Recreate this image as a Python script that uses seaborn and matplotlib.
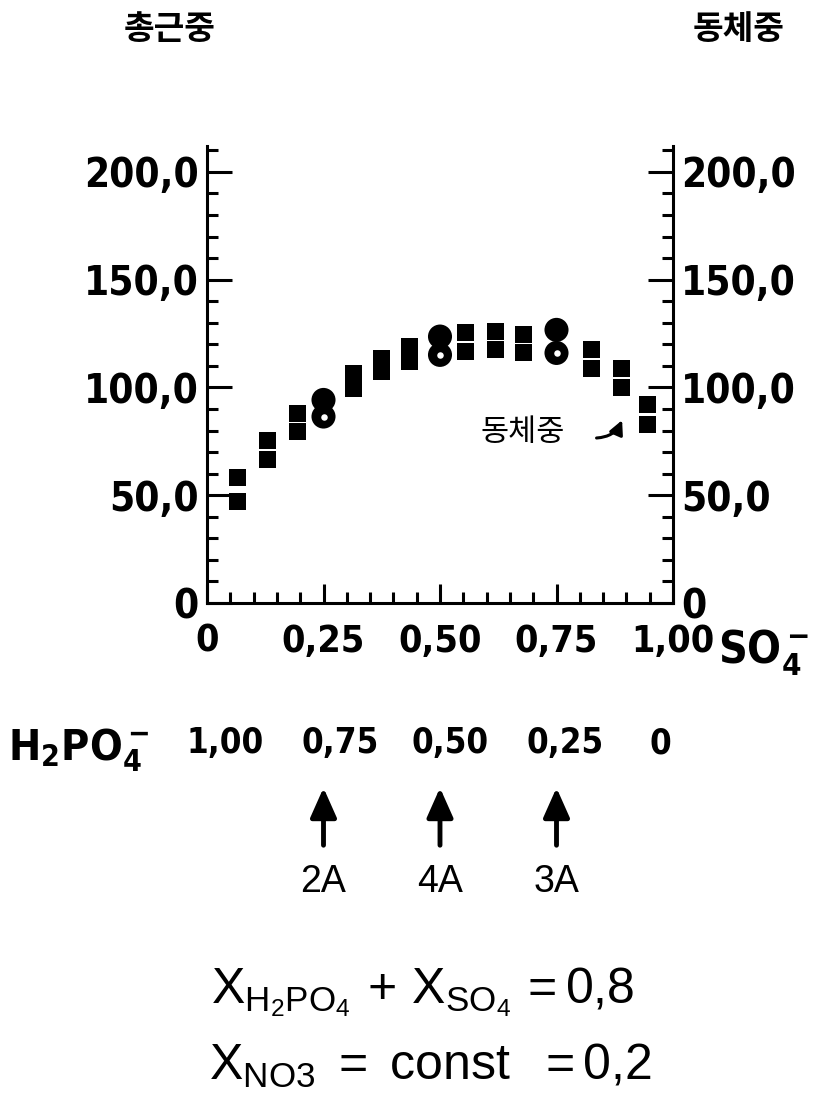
import numpy as np
import pandas as pd
import matplotlib
matplotlib.use('Agg')
import matplotlib.pyplot as plt
import matplotlib.transforms as mtransforms
from matplotlib import font_manager as fm
from matplotlib.ticker import FixedLocator, MultipleLocator
import seaborn as sns

sns.set_style("white")

# fonte estreita (condensada) se houver; senão Liberation Sans menor
estreitas = [f for f in fm.fontManager.ttflist
             if str(f.stretch) in ('condensed', 'semi-condensed', 'extra-condensed', 'ultra-condensed')
             or 'Narrow' in f.name or 'Condensed' in f.name]
if estreitas:
    fonte_num = estreitas[0].name
    esticar = 'condensed'
    fator = 1.0
else:
    fonte_num = 'Liberation Sans'
    esticar = 'normal'
    fator = 0.85

plt.rcParams['font.family'] = [fonte_num, 'Liberation Sans', 'DejaVu Sans']
plt.rcParams['font.stretch'] = esticar
for k in ['text.color', 'axes.labelcolor', 'xtick.color', 'ytick.color', 'axes.edgecolor']:
    plt.rcParams[k] = 'black'
plt.rcParams['mathtext.fontset'] = 'custom'
plt.rcParams['mathtext.rm'] = 'Liberation Sans:regular'
plt.rcParams['mathtext.it'] = 'Liberation Sans:italic'
plt.rcParams['mathtext.sf'] = 'Liberation Sans:regular'
plt.rcParams['mathtext.bf'] = fonte_num + ':bold'

# --- valores ---
so4_frac = [0.065, 0.13, 0.195, 0.25, 0.315, 0.375, 0.435, 0.50,
            0.555, 0.62, 0.68, 0.75, 0.825, 0.89, 0.945]
peso_alto = [58.3, 75.6, 88.0, 94.2, 106.6, 113.5, 118.9, 123.6,
             125.3, 125.8, 124.4, 126.7, 117.4, 109.0, 91.9]
peso_baixo = [47.3, 66.4, 79.5, 86.5, 99.6, 107.3, 112.0, 115.1,
              116.5, 117.4, 116.0, 116.0, 109.0, 99.8, 82.6]
tipo_ponto = ['square', 'square', 'square', 'circle', 'square', 'square', 'square', 'circle',
              'square', 'square', 'square', 'circle', 'square', 'square', 'square']

x_ticks = [0, 0.25, 0.5, 0.75, 1.0]
x_ticklabels = ['0', '0,25', '0,50', '0,75', '1,00']
y_ticks = [0, 50, 100, 150, 200]
y_ticklabels = ['0', '50,0', '100,0', '150,0', '200,0']
h2po4_labels = ['1,00', '0,75', '0,50', '0,25', '0']
h2po4_pos = [0.039, 0.285, 0.521, 0.768, 0.972]
amostras = ['2A', '4A', '3A']
amostras_x = [0.25, 0.5, 0.75]

df = pd.DataFrame({
    'so4': so4_frac * 2,
    'peso': peso_alto + peso_baixo,
    'tipo': tipo_ponto * 2,
    'serie': ['alto'] * len(so4_frac) + ['baixo'] * len(so4_frac),
})

W, H = 815, 1110
fig = plt.figure(figsize=(W / 100, H / 100), dpi=100)
ax = fig.add_axes([207 / W, 1 - 603 / H, 466 / W, (603 - 146) / H])

sns.scatterplot(data=df, x='so4', y='peso', style='tipo', size='tipo',
                markers={'square': 's', 'circle': 'o'},
                sizes={'square': 150, 'circle': 300},
                color='black', linewidth=0, legend=False, ax=ax)
# pequeno furo branco nos círculos de baixo
furos = df[(df['tipo'] == 'circle') & (df['serie'] == 'baixo')]
sns.scatterplot(data=furos, x='so4', y='peso', marker='o', s=22, color='white',
                linewidth=0, legend=False, ax=ax)

ax.set_xlim(0, 1)
ax.set_ylim(0, 212)
ax.set_xlabel('')
ax.set_ylabel('')
ax.spines['top'].set_visible(False)
for s in ['left', 'right', 'bottom']:
    ax.spines[s].set_linewidth(2.2)
    ax.spines[s].set_color('black')

ax.xaxis.set_major_locator(FixedLocator(x_ticks))
ax.set_xticklabels(x_ticklabels)
ax.xaxis.set_minor_locator(MultipleLocator(0.05))
ax.yaxis.set_major_locator(FixedLocator(y_ticks))
ax.set_yticklabels(y_ticklabels)
ax.yaxis.set_minor_locator(MultipleLocator(10))

ax.tick_params(axis='both', which='both', direction='in', color='black', width=2.2)
ax.tick_params(axis='y', which='major', length=18, left=True, right=True,
               labelleft=True, labelright=True, labelsize=29 * fator, pad=6)
ax.tick_params(axis='y', which='minor', length=8, left=True, right=True)
ax.tick_params(axis='x', which='major', length=14, bottom=True, top=False,
               labelsize=27 * fator, pad=15)
ax.tick_params(axis='x', which='minor', length=8, bottom=True, top=False)
for t in ax.xaxis.get_major_ticks() + ax.yaxis.get_major_ticks():
    t.label1.set_fontweight('bold')
    t.label2.set_fontweight('bold')

# títulos dos eixos (coreano)
kr = ['Noto Sans CJK KR', 'DejaVu Sans']
fig.text(170 / W, 1 - 30 / H, '총근중', ha='center', va='center', fontsize=24,
         family=kr, weight='bold', stretch='normal')
fig.text(739 / W, 1 - 30 / H, '동체중', ha='center', va='center', fontsize=24,
         family=kr, weight='bold', stretch='normal')

ax.text(0.678, 79, '동체중', ha='center', va='center', fontsize=22, family=kr,
        weight='normal', stretch='normal')
ax.annotate('', xy=(0.893, 86), xytext=(0.83, 76.5),
            arrowprops=dict(arrowstyle='-|>,head_length=0.6,head_width=0.3',
                            connectionstyle='arc3,rad=0.35', color='black', lw=2.2,
                            mutation_scale=14))

# SO4 e H2PO4
fig.text(718 / W, 1 - 652 / H, r'$\mathbf{SO_4^-}$', ha='left', va='center',
         fontsize=32 * fator)
fig.text(8 / W, 1 - 750 / H, r'$\mathbf{H_2PO_4^-}$', ha='left', va='center',
         fontsize=31 * fator)

trans = mtransforms.blended_transform_factory(ax.transData, fig.transFigure)
for lab, xp in zip(h2po4_labels, h2po4_pos):
    ax.text(xp, 1 - 743 / H, lab, transform=trans, ha='center', va='center',
            fontsize=25 * fator, weight='bold')

# setas das amostras
for nome, xp in zip(amostras, amostras_x):
    ax.annotate('', xy=(xp, 1 - 785 / H), xycoords=trans,
                xytext=(xp, 1 - 848 / H), textcoords=trans,
                arrowprops=dict(arrowstyle='-|>,head_length=0.9,head_width=0.4',
                                color='black', lw=3.5, mutation_scale=20),
                annotation_clip=False)
    ax.text(xp, 1 - 882 / H, nome, transform=trans, ha='center', va='center',
            fontsize=27, family=['Liberation Sans', 'DejaVu Sans'], weight='normal',
            stretch='normal')

fig.text(423 / W, 1 - 992 / H,
         r'$\mathrm{X}_{\mathrm{H_2PO_4}}\,+\,\mathrm{X}_{\mathrm{SO_4}}\,=0{,}8$',
         ha='center', va='center', fontsize=36)
fig.text(430 / W, 1 - 1066 / H,
         r'$\mathrm{X}_{\mathrm{NO3}}\ =\ \mathrm{const}\ \ =0{,}2$',
         ha='center', va='center', fontsize=36)

fig.savefig('out.png', dpi=100, facecolor='white')
